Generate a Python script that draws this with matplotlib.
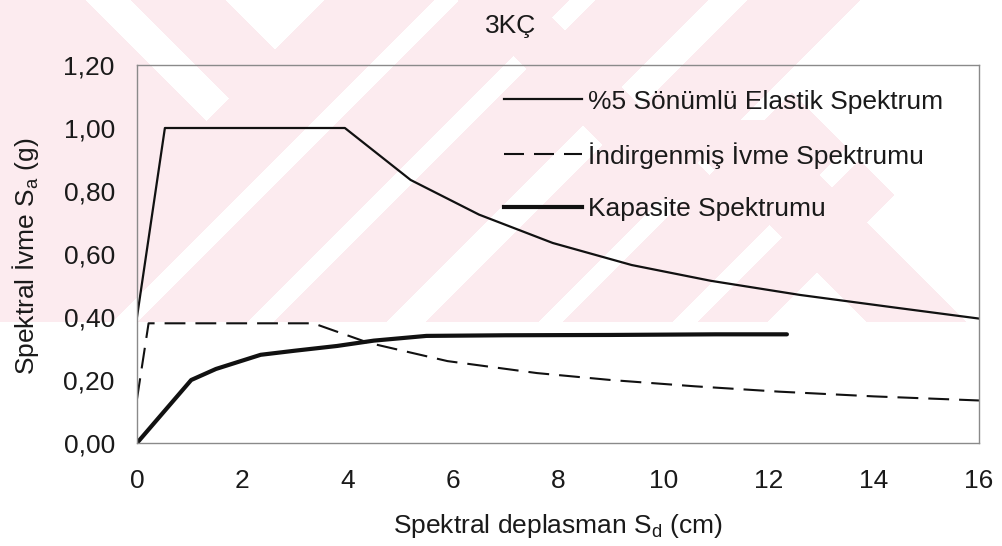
import numpy as np
import matplotlib
matplotlib.use("Agg")
import matplotlib.pyplot as plt
from matplotlib.lines import Line2D

plt.rcParams["font.family"] = ["Liberation Sans", "DejaVu Sans"]
plt.rcParams["mathtext.fontset"] = "custom"
plt.rcParams["mathtext.rm"] = "Liberation Sans"
plt.rcParams["mathtext.it"] = "Liberation Sans:italic"

# --- data -------------------------------------------------------------
title = "3KÇ"

# %5 damped elastic spectrum (Sd in cm, Sa in g)
elastic_sd = [0.0, 0.53, 3.95, 5.2, 6.5, 7.9, 9.4, 10.9, 12.6, 14.4, 16.0]
elastic_sa = [0.40, 1.00, 1.00, 0.835, 0.725, 0.635, 0.565, 0.515, 0.47, 0.43, 0.395]

# reduced acceleration spectrum
reduced_sd = [0.0, 0.22, 3.35, 4.4, 5.9, 7.6, 9.0, 10.6, 12.2, 14.0, 16.0]
reduced_sa = [0.14, 0.38, 0.38, 0.318, 0.26, 0.222, 0.20, 0.18, 0.163, 0.148, 0.135]

# capacity spectrum
capacity_sd = [0.0, 1.03, 1.5, 2.35, 3.0, 3.8, 4.5, 5.5, 7.0, 9.0, 11.0, 12.35]
capacity_sa = [0.0, 0.20, 0.235, 0.28, 0.293, 0.308, 0.325, 0.34, 0.342, 0.343, 0.345, 0.345]

series_labels = ["%5 Sönümlü Elastik Spektrum",
                 "İndirgenmiş İvme Spektrumu",
                 "Kapasite Spektrumu"]

x_ticks = [0, 2, 4, 6, 8, 10, 12, 14, 16]
x_ticklabels = ["0", "2", "4", "6", "8", "10", "12", "14", "16"]
y_ticks = [0.0, 0.2, 0.4, 0.6, 0.8, 1.0, 1.2]
y_ticklabels = ["0,00", "0,20", "0,40", "0,60", "0,80", "1,00", "1,20"]

x_label = r"Spektral deplasman S$_{\rm d}$ (cm)"
y_label = r"Spektral İvme S$_{\rm a}$ (g)"

FS = 19
INK = "#1a1a1a"

# --- figure -----------------------------------------------------------
W, H = 1002, 546
fig = plt.figure(figsize=(W / 100, H / 100), dpi=100)
fig.patch.set_facecolor("white")

# pale page watermark behind the chart (diagonal band pattern)
yy, xx = np.mgrid[0:H, 0:W] + 0.5
s = xx + yy
d = xx - yy
pink = np.zeros((H, W), dtype=bool)
for lo, hi in [(188, 300), (325, 435), (460, 570), (596, 709), (748, 861)]:
    pink |= (s >= lo) & (s < hi)
for lo, hi in [(885, 995), (1020, 1090)]:
    pink |= (s >= lo) & (s < hi) & (d < 700)
pink |= (d >= 458) & (d < 535) & (yy < 200)
pink |= (d >= 545) & (d < 645) & (yy > 120)
pink |= (s < 325) & ((d < 86) | ((d >= 131) & (d < 226)))
pink &= ~((s < 328) & (d >= 86) & (d < 131))
pink &= ~((s < 325) & (d >= 226))
pink &= yy < 322
img = np.ones((H, W, 3))
img[pink] = np.array([252, 235, 239]) / 255.0
bg = fig.add_axes([0, 0, 1, 1], zorder=-10)
bg.imshow(img, extent=(0, W, H, 0), interpolation="nearest", aspect="auto")
bg.set_axis_off()

ax = fig.add_axes([137 / W, 1 - 443 / H, 842 / W, 378 / H])
ax.patch.set_alpha(0)

ax.plot(elastic_sd, elastic_sa, color="#111111", lw=1.6, solid_joinstyle="round")
ax.plot(reduced_sd, reduced_sa, color="#111111", lw=1.5, dashes=(10, 4.8))
ax.plot(capacity_sd, capacity_sa, color="#111111", lw=3.0,
        solid_capstyle="round", solid_joinstyle="round")

ax.set_xlim(0, 16)
ax.set_ylim(0, 1.2)
ax.set_xticks(x_ticks)
ax.set_xticklabels(x_ticklabels)
ax.set_yticks(y_ticks)
ax.set_yticklabels(y_ticklabels)
ax.tick_params(axis="both", length=0, labelsize=FS, colors=INK)
ax.tick_params(axis="x", pad=19)
ax.tick_params(axis="y", pad=16)

for side in ["left", "right", "top", "bottom"]:
    ax.spines[side].set_color("#8a8a8a")
    ax.spines[side].set_linewidth(1.0)
    ax.spines[side].set_linestyle((0, (1, 1)))

handles = [
    Line2D([], [], color="#111111", lw=1.6),
    Line2D([], [], color="#111111", lw=1.5, dashes=(9.6, 4.8)),
    Line2D([], [], color="#111111", lw=3.0),
]
ax.legend(handles, series_labels, loc="upper left",
          bbox_to_anchor=((504 - 137) / 842, 1 - (89.5 - 65) / 378),
          frameon=False, fontsize=FS, handlelength=2.95, handletextpad=0.23,
          labelspacing=1.08, borderpad=0, borderaxespad=0, labelcolor=INK)

fig.text(511 / W, 1 - 26 / H, title, ha="center", va="center",
         fontsize=FS, color=INK)
fig.text(558 / W, 1 - 526 / H, x_label, ha="center", va="center",
         fontsize=FS, color=INK)
fig.text(26 / W, 1 - 256 / H, y_label, ha="center", va="center",
         rotation=90, fontsize=FS, color=INK)

fig.savefig("out.png", dpi=100, facecolor="white")
